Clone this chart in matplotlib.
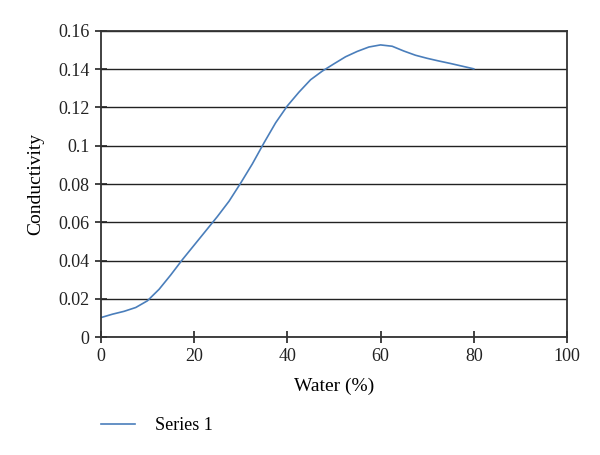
import matplotlib.pyplot as plt
import matplotlib

matplotlib.rcParams['font.family'] = ['Liberation Serif', 'DejaVu Serif']

# data
water = [0, 2.5, 5, 7.5, 10, 12.5, 15, 17.5, 20, 22.5, 25, 27.5, 30, 32.5, 35,
         37.5, 40, 42.5, 45, 47.5, 50, 52.5, 55, 57.5, 60, 62.5, 65, 67.5, 70,
         72.5, 75, 77.5, 80]
conductivity = [0.0102, 0.012, 0.0135, 0.0155, 0.019, 0.025, 0.0325, 0.0405,
                0.048, 0.0555, 0.063, 0.071, 0.0805, 0.0905, 0.1015, 0.112,
                0.1208, 0.128, 0.1345, 0.139, 0.1428, 0.1465, 0.1493, 0.1516,
                0.1527, 0.152, 0.1495, 0.1473, 0.1457, 0.1443, 0.143, 0.1416,
                0.1402]
x_ticks = [0, 20, 40, 60, 80, 100]
y_ticks = [0, 0.02, 0.04, 0.06, 0.08, 0.1, 0.12, 0.14, 0.16]
y_labels = ['0', '0.02', '0.04', '0.06', '0.08', '0.1', '0.12', '0.14', '0.16']

fig = plt.figure(figsize=(6, 4.55), dpi=100)
ax = fig.add_axes([0.168, 0.259, 0.777, 0.673])

line, = ax.plot(water, conductivity, color='#4a7ebb', lw=1.2, label='Series 1')

ax.set_xlim(0, 100)
ax.set_ylim(0, 0.16)
ax.set_xticks(x_ticks)
ax.set_yticks(y_ticks)
ax.set_yticklabels(y_labels)
ax.yaxis.grid(True, color='#222222', lw=1.0)
ax.set_axisbelow(True)
for s in ax.spines.values():
    s.set_color('#333333')
    s.set_linewidth(1.3)
ax.tick_params(direction='inout', length=8, width=1.2, labelsize=13, pad=4,
               colors='#222222')
ax.set_xlabel('Water (%)', fontsize=14, labelpad=9)
ax.set_ylabel('Conductivity', fontsize=14, labelpad=10)

fig.legend(handles=[line], loc='lower left', bbox_to_anchor=(0.141, 0.01),
           frameon=False, fontsize=13, handlelength=1.9, handletextpad=1.1)

fig.savefig('out.png', dpi=100)
